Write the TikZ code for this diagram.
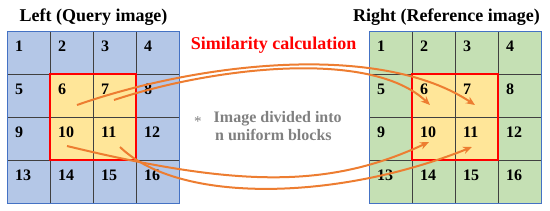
\documentclass[tikz,border=0pt]{standalone}
\usepackage{fontspec}
\setmainfont{Liberation Serif}
\usetikzlibrary{arrows.meta}
\definecolor{cblue}{HTML}{B4C7E7}
\definecolor{cgreen}{HTML}{C5E0B4}
\definecolor{cyellow}{HTML}{FFE699}
\definecolor{cframe}{HTML}{4472C4}
\definecolor{cgrid}{HTML}{404040}
\definecolor{corange}{HTML}{ED7D31}
\definecolor{cgray}{HTML}{808080}
\definecolor{cred}{HTML}{FF0000}
\begin{document}
\begin{tikzpicture}[x=1pt,y=-1pt,
  cell/.style={draw=cgrid, line width=0.8pt, minimum size=43pt, inner sep=0pt, outer sep=0pt},
  num/.style={font=\fontsize{16}{16}\selectfont\bfseries, inner sep=0pt, anchor=base west},
  frame/.style={draw=cframe, line width=1pt},
  hilite/.style={draw=cred, line width=1.3pt},
  arr/.style={draw=corange, line width=2pt, -{Stealth[length=9pt,width=7.5pt]}},
  title/.style={font=\fontsize{18}{18}\selectfont\bfseries, inner sep=0pt, anchor=base},
  note/.style={font=\fontsize{16}{16}\selectfont\bfseries, text=cgray, inner sep=0pt, anchor=base west}]
\useasboundingbox (0,0) rectangle (550,210);
\foreach \r in {0,...,3} {
  \foreach \c in {0,...,3} {
    \pgfmathtruncatemacro\n{4*\r+\c+1}
    \def\fl{cblue}\def\fr{cgreen}
    \ifnum\r>0 \ifnum\r<3 \ifnum\c>0 \ifnum\c<3 \def\fl{cyellow}\def\fr{cyellow}\fi\fi\fi\fi
    \node[cell, fill=\fl] (L\n) at (28.5+43*\c, 52.5+43*\r) {};
    \node[num] at ([shift={(-13.5,-1.5)}]L\n.center) {\n};
    \node[cell, fill=\fr] (R\n) at (390.5+43*\c, 52.5+43*\r) {};
    \node[num] at ([shift={(-13.5,-1.5)}]R\n.center) {\n};
  }
}
\draw[frame] (L1.north west) rectangle (L16.south east);
\draw[frame] (R1.north west) rectangle (R16.south east);
\draw[hilite] (L6.north west) rectangle (L11.south east);
\draw[hilite] (R6.north west) rectangle (R11.south east);
\node[title] (tl) at (93.5,21) {Left (Query image)};
\node[title] (tr) at (446.5,21) {Right (Reference image)};
\node[title, text=cred] (sim) at (273.5,49) {Similarity calculation};
\node[note] (n1) at (194,122) {\raisebox{-4pt}{\fontsize{15}{15}\selectfont\mdseries *}\hspace{12pt}Image divided into};
\node[note] (n2) at (215,140) {n uniform blocks};
\draw[arr] ([shift={(5.5,9.5)}]L6.center) .. controls (200,62) and (380,42) .. ([shift={(-1.5,9.5)}]R7.center);
\draw[arr] ([shift={(-0.5,4.5)}]L7.center) .. controls (210,68) and (370,48) .. ([shift={(-3.5,9.5)}]R6.center);
\draw[arr] ([shift={(-4.5,7.5)}]L10.center) .. controls (240,188) and (330,188) .. ([shift={(-4.5,3.5)}]R10.center);
\draw[arr] ([shift={(5.5,8.5)}]L11.center) .. controls (180,205) and (340,200) .. ([shift={(-4.5,8.5)}]R11.center);
\end{tikzpicture}
\end{document}
